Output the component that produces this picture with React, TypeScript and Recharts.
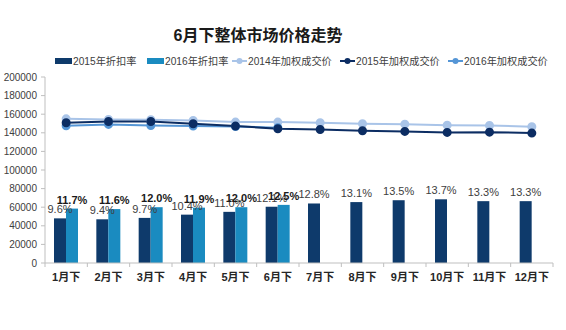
import { Bar, ComposedChart, LabelList, Line, XAxis, YAxis } from 'recharts';

const months = ['1月下', '2月下', '3月下', '4月下', '5月下', '6月下', '7月下', '8月下', '9月下', '10月下', '11月下', '12月下'];
const rate2015 = [9.6, 9.4, 9.7, 10.4, 11.0, 12.1, 12.8, 13.1, 13.5, 13.7, 13.3, 13.3];
const rate2016 = [11.7, 11.6, 12.0, 11.9, 12.0, 12.5];
const price2014 = [155000, 154300, 154000, 153300, 151500, 151500, 150800, 149700, 149300, 148200, 147900, 146500];
const price2015 = [150800, 152200, 152200, 149700, 147200, 144400, 143600, 142200, 141500, 140400, 140700, 139700];
const price2016 = [147600, 149000, 147900, 147200, 146800, 145400];
const yTicks = [0, 20000, 40000, 60000, 80000, 100000, 120000, 140000, 160000, 180000, 200000];

const colors = {
  bar2015: '#0e3a6b',
  bar2016: '#1a8bc0',
  line2014: '#a9c4e8',
  line2015: '#0c2d63',
  line2016: '#5596d6',
};

const font = '"Liberation Sans", Arial, "Noto Sans CJK SC", sans-serif';

const rows = months.map((name, i) => ({
  name,
  r2015: rate2015[i] ?? null,
  r2016: rate2016[i] ?? null,
  p2014: price2014[i] ?? null,
  p2015: price2015[i] ?? null,
  p2016: price2016[i] ?? null,
}));

const W = 566;
const H = 330;
const margin = { top: 77, right: 13, left: 0, bottom: 37 };
const yAxisWidth = 45;
const band = (W - margin.left - margin.right - yAxisWidth) / months.length;

// legend entries, left edge of each entry
const legendItems = [
  { kind: 'bar', color: colors.bar2015, label: '2015年折扣率', left: 55 },
  { kind: 'bar', color: colors.bar2016, label: '2016年折扣率', left: 147 },
  { kind: 'line', color: colors.line2014, label: '2014年加权成交价', left: 232 },
  { kind: 'line', color: colors.line2015, label: '2015年加权成交价', left: 340 },
  { kind: 'line', color: colors.line2016, label: '2016年加权成交价', left: 448 },
];

function CatTick(props: any) {
  const { x, y, payload, index } = props;
  return (
    <g>
      <line x1={x - band / 2} x2={x - band / 2} y1={y} y2={y + 4} stroke="#bfbfbf" />
      {index === months.length - 1 ? (
        <line x1={x + band / 2} x2={x + band / 2} y1={y} y2={y + 4} stroke="#bfbfbf" />
      ) : null}
      <text x={x} y={y + 18} textAnchor="middle" fontSize={11} fontWeight="bold" fill="#262626" fontFamily={font}>
        {payload.value}
      </text>
    </g>
  );
}

const pct = (v: any) => (v == null ? '' : `${Number(v).toFixed(1)}%`);

function LegendItem({ kind, color, label, left }: { kind: string; color: string; label: string; left: number }) {
  return (
    <span style={{ position: 'absolute', left, top: 0, display: 'inline-flex', alignItems: 'center', whiteSpace: 'nowrap' }}>
      {kind === 'bar' ? (
        <span style={{ display: 'inline-block', width: 17, height: 6, background: color }} />
      ) : (
        <svg width={15} height={8}>
          <line x1={0} x2={15} y1={4} y2={4} stroke={color} strokeWidth={2} />
          <circle cx={7.5} cy={4} r={3} fill={color} />
        </svg>
      )}
      <span style={{ marginLeft: 1 }}>{label}</span>
    </span>
  );
}

export default function App() {
  return (
    <div style={{ position: 'absolute', left: 0, top: 0, width: W, height: H, background: '#fff', fontFamily: font }}>
      <div
        style={{
          position: 'absolute',
          left: 0,
          width: 516,
          top: 22,
          textAlign: 'center',
          fontSize: 16,
          fontWeight: 'bold',
          color: '#1a1a1a',
        }}
      >
        6月下整体市场价格走势
      </div>
      <div style={{ position: 'absolute', left: 0, top: 53, width: W, height: 16, fontSize: 10.2, color: '#404040' }}>
        {legendItems.map((item) => (
          <LegendItem key={item.label} {...item} />
        ))}
      </div>
      <ComposedChart width={W} height={H} data={rows} margin={margin} barGap={0} style={{ position: 'absolute', left: 0, top: 0 }}>
        <XAxis
          dataKey="name"
          axisLine={{ stroke: '#bfbfbf' }}
          tickLine={false}
          tickSize={0}
          tickMargin={0}
          height={30}
          interval={0}
          tick={<CatTick />}
        />
        <YAxis
          yAxisId="left"
          width={yAxisWidth}
          domain={[0, 200000]}
          ticks={yTicks}
          interval={0}
          axisLine={{ stroke: '#bfbfbf' }}
          tickLine={{ stroke: '#bfbfbf' }}
          tickSize={4}
          tickMargin={4}
          tick={{ fontSize: 10, fill: '#404040', fontFamily: font }}
        />
        <YAxis yAxisId="right" orientation="right" domain={[0, 40]} hide />
        <Bar yAxisId="right" dataKey="r2015" fill={colors.bar2015} barSize={12} isAnimationActive={false}>
          <LabelList dataKey="r2015" position="top" formatter={pct} fontSize={11} fill="#404040" fontFamily={font} />
        </Bar>
        <Bar yAxisId="right" dataKey="r2016" fill={colors.bar2016} barSize={12} isAnimationActive={false}>
          <LabelList
            dataKey="r2016"
            position="top"
            formatter={pct}
            fontSize={11}
            fontWeight="bold"
            fill="#1a1a1a"
            fontFamily={font}
          />
        </Bar>
        <Line
          yAxisId="left"
          dataKey="p2014"
          stroke={colors.line2014}
          strokeWidth={2}
          dot={{ r: 3.5, fill: colors.line2014, stroke: colors.line2014 }}
          isAnimationActive={false}
        />
        <Line
          yAxisId="left"
          dataKey="p2016"
          stroke={colors.line2016}
          strokeWidth={2}
          dot={{ r: 3.5, fill: colors.line2016, stroke: colors.line2016 }}
          isAnimationActive={false}
        />
        <Line
          yAxisId="left"
          dataKey="p2015"
          stroke={colors.line2015}
          strokeWidth={2}
          dot={{ r: 3.5, fill: colors.line2015, stroke: colors.line2015 }}
          isAnimationActive={false}
        />
      </ComposedChart>
    </div>
  );
}
